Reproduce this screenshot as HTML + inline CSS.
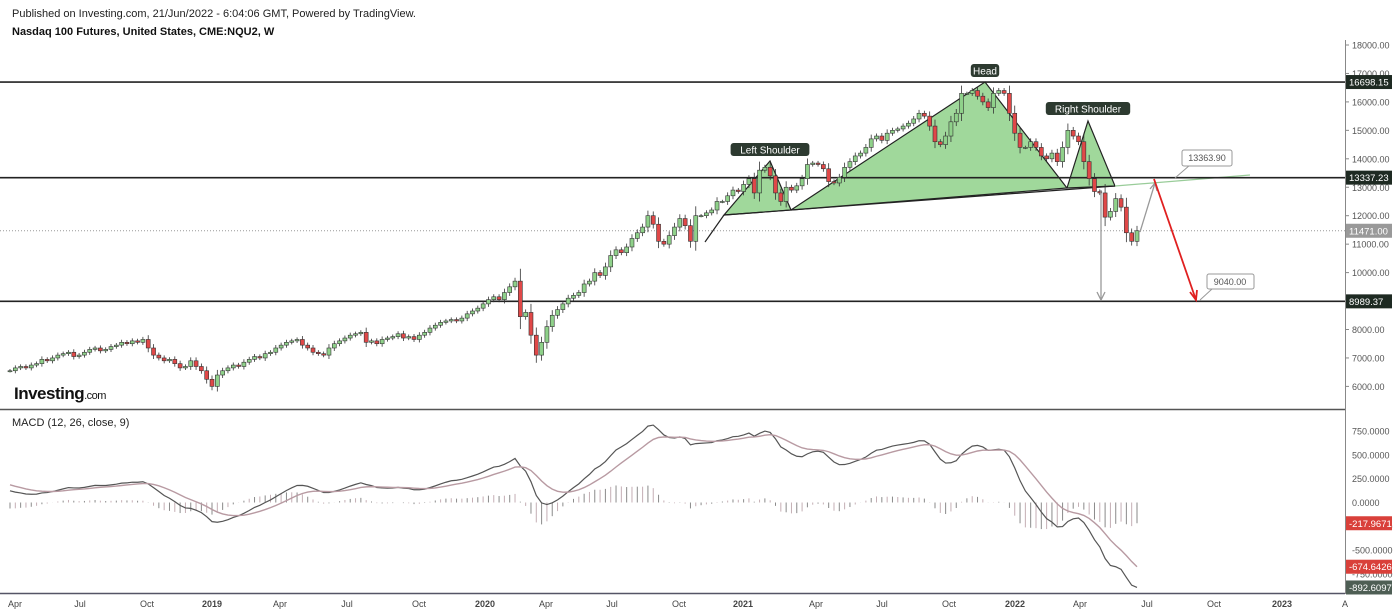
<!DOCTYPE html>
<html><head><meta charset="utf-8"><style>
body{margin:0;background:#fff;font-family:"Liberation Sans",sans-serif}
svg{display:block}
text{font-family:"Liberation Sans",sans-serif}
</style></head><body>
<svg id="c" width="1400" height="612" xmlns="http://www.w3.org/2000/svg">
<rect width="1400" height="612" fill="#fff"/>
<text x="12" y="17" font-size="11" fill="#222">Published on Investing.com, 21/Jun/2022 - 6:04:06 GMT, Powered by TradingView.</text>
<text x="12" y="35" font-size="11" font-weight="bold" fill="#111">Nasdaq 100 Futures, United States, CME:NQU2, W</text>
<text x="14" y="399" font-size="17" font-weight="bold" fill="#111" letter-spacing="-0.5">Investing<tspan font-size="11" font-weight="normal">.com</tspan></text>
<text x="12" y="426" font-size="11" fill="#222">MACD (12, 26, close, 9)</text>
<line x1="0" y1="409.5" x2="1345" y2="409.5" stroke="#555" stroke-width="1.5"/>
<line x1="1345.5" y1="40" x2="1345.5" y2="594" stroke="#888"/>
<line x1="0" y1="593.5" x2="1345" y2="593.5" stroke="#556" stroke-width="1.5"/>
<g id="g"></g>
</svg>
<script>
const warmup=[5800,5900,5950,5900,6000,6100,6200,6250,6300,6350,6300,6400,6450,6350,6450,6500,6700,6850,6950,7000,6850,6600,6650,6800,6900,7050,7100,6950,6600,6700,6550];
const closes=[6550,6650,6700,6650,6750,6800,6950,6900,7000,7100,7150,7200,7050,7100,7200,7300,7350,7250,7300,7400,7450,7550,7500,7600,7550,7650,7350,7100,7000,6900,6950,6800,6650,6700,6900,6700,6550,6250,6000,
6400,6550,6650,6750,6700,6850,6950,7050,7000,7150,7200,7350,7450,7550,7600,7650,7450,7350,7200,7150,7100,7350,7500,7600,7700,7800,7850,7900,7550,7600,7500,7650,7700,7750,7850,7700,7750,7650,7800,7900,8050,8150,8250,8300,8350,8300,8400,8550,8650,8750,
8900,9050,9150,9050,9300,9500,9700,8450,8600,7800,7100,7550,8100,8500,8700,8900,9100,9200,9300,9600,9700,10000,9900,10200,10600,10800,10700,10900,11200,11400,11600,12000,11700,11100,11000,11300,11600,11900,11650,11100,12000,12000,12100,12200,12500,12500,12700,12900,
12850,13100,13300,12800,13600,13700,13400,12800,12500,13000,12900,13050,13300,13800,13850,13800,13650,13200,13150,13350,13700,13900,14100,14200,14400,14700,14800,14650,14900,15000,15050,15150,15250,15400,15600,15500,15150,14600,14500,14800,15300,15600,16300,16300,16400,16200,16000,15800,16300,16400,16300,
15600,14900,14400,14400,14600,14400,14100,14000,14200,13900,14400,15000,14800,14600,13900,13300,12850,12800,11950,12150,12600,12300,11400,11100,11471];
const priceTicks=[18000,17000,16000,15000,14000,13000,12000,11000,10000,9000,8000,7000,6000];
const macdTicks=[750,500,250,0,-250,-500,-750];
const timeLabels=["Apr","Jul","Oct","2019","Apr","Jul","Oct","2020","Apr","Jul","Oct","2021","Apr","Jul","Oct","2022","Apr","Jul","Oct","2023","A"];
const timeLabelX=[15,80,147,212,280,347,419,485,546,612,679,743,816,882,949,1015,1080,1147,1214,1282,1345];
const levels=[16698.15,13337.23,8989.37];
const lastPrice=11471.00;
const NS="http://www.w3.org/2000/svg";
const G=document.getElementById('g');
function py(v){return 45+(18000-v)*0.02845;}
function my(v){return 502.5-v*0.0952;}
function px(i){return 10+i*(1127/(closes.length-1));}
function mk(t,a,p){const e=document.createElementNS(NS,t);for(const k in a)e.setAttribute(k,a[k]);(p||G).appendChild(e);return e;}
priceTicks.forEach(v=>{const y=py(v);
 const l=mk('line',{x1:1345,y1:y,x2:1349,y2:y,stroke:'#888'});
 
 
 const t=mk('text',{x:1352,y:y+3.5,'font-size':9,fill:'#555'});t.textContent=v.toFixed(2);
 
 });
macdTicks.forEach(v=>{const y=my(v);
 const t=mk('text',{x:1352,y:y+3.5,'font-size':9,fill:'#555'});t.textContent=v.toFixed(4);
 
 });
timeLabels.forEach((s,i)=>{const t=mk('text',{x:timeLabelX[i],y:607,'font-size':9,fill:'#444','text-anchor':'middle','font-weight':/^\d{4}$/.test(s)?'bold':'normal'});t.textContent=s;
 
 });
const pat=mk('g',{});


mk('polygon',{points:'724,215 770,161 791,210',fill:'#8fd18a','fill-opacity':0.85,stroke:'#222','stroke-width':1.2},pat);
mk('polygon',{points:'791,210 985,82 1067,188',fill:'#8fd18a','fill-opacity':0.85,stroke:'#222','stroke-width':1.2},pat);
mk('polygon',{points:'1067,188 1088,121 1115,186',fill:'#8fd18a','fill-opacity':0.85,stroke:'#222','stroke-width':1.2},pat);
mk('line',{x1:705,y1:242,x2:724,y2:215,stroke:'#222','stroke-width':1.2},pat);
mk('line',{x1:724,y1:215,x2:1115,y2:186,stroke:'#222','stroke-width':1.2},pat);
mk('line',{x1:1115,y1:186,x2:1250,y2:175,stroke:'#9c9','stroke-width':1.2},pat);
levels.forEach(v=>{const y=py(v);
 const l=mk('line',{x1:0,y1:y,x2:1345,y2:y,stroke:'#222','stroke-width':1.6});
 
 
 mk('rect',{x:1346,y:y-7,width:46,height:14,fill:'#1e2a22'});
 const t=mk('text',{x:1349,y:y+3.5,'font-size':9.5,fill:'#fff'});t.textContent=v.toFixed(2);
 
 });
const ly=py(lastPrice);
const dl=mk('line',{x1:0,y1:ly,x2:1345,y2:ly,stroke:'#999','stroke-dasharray':'1,2'});


mk('rect',{x:1346,y:ly-7,width:46,height:14,fill:'#999'});
const lt=mk('text',{x:1349,y:ly+3.5,'font-size':9.5,fill:'#fff'});lt.textContent=lastPrice.toFixed(2);


for(let i=0;i<closes.length;i++){
 const o=i?closes[i-1]:warmup[warmup.length-1],c=closes[i];
 const hi=Math.max(o,c)+Math.abs(c-o)*0.3+60,lo=Math.min(o,c)-Math.abs(c-o)*0.3-60;
 const x=px(i),up=c>=o;
 const g=mk('g',{});
 
 
 mk('line',{x1:x,y1:py(hi),x2:x,y2:py(lo),stroke:'#333','stroke-width':0.8},g);
 const t=py(Math.max(o,c)),b=py(Math.min(o,c));
 mk('rect',{x:x-2,y:t,width:4,height:Math.max(1,b-t),fill:up?'#8fd18a':'#e04848',stroke:'#333','stroke-width':0.6},g);
}
mk('line',{x1:1101,y1:190,x2:1101,y2:300,stroke:'#999','stroke-width':1.3});
mk('polyline',{points:'1097,292 1101,300 1105,292',fill:'none',stroke:'#999','stroke-width':1.3});
mk('line',{x1:1140,y1:232,x2:1155,y2:183,stroke:'#999','stroke-width':1.3});
mk('polyline',{points:'1150,189 1155,183 1157,191',fill:'none',stroke:'#999','stroke-width':1.3});
mk('line',{x1:1154,y1:179,x2:1196,y2:300,stroke:'#e02020','stroke-width':1.8});
mk('polyline',{points:'1190,292 1196,300 1197,290',fill:'none',stroke:'#e02020','stroke-width':1.8});
mk('line',{x1:1175,y1:178,x2:1190,y2:165,stroke:'#999'});
mk('rect',{x:1182,y:150,width:50,height:16,rx:2,fill:'#fff',stroke:'#999'});
let t1=mk('text',{x:1207,y:161,'font-size':9,fill:'#555','text-anchor':'middle'});t1.textContent='13363.90';


mk('line',{x1:1200,y1:300,x2:1212,y2:289,stroke:'#999'});
mk('rect',{x:1207,y:274,width:47,height:15,rx:2,fill:'#fff',stroke:'#999'});
let t2=mk('text',{x:1230,y:285,'font-size':9,fill:'#555','text-anchor':'middle'});t2.textContent='9040.00';


[['Left Shoulder',770,150],['Head',985,71],['Right Shoulder',1088,109]].forEach(a=>{
 const w=a[0].length*5.6+6;
 mk('rect',{x:a[1]-w/2,y:a[2]-7,width:w,height:13,rx:3,fill:'#2d3a30'});
 const t=mk('text',{x:a[1],y:a[2]+3.5,'font-size':10,fill:'#fff','text-anchor':'middle'});t.textContent=a[0];
 
 });
function ema(arr,n){const k=2/(n+1);const r=[];let e=arr[0];arr.forEach(v=>{e=v*k+e*(1-k);r.push(e);});return r;}
const all=warmup.concat(closes);
const e12=ema(all,12),e26=ema(all,26);
const macdAll=all.map((_,i)=>e12[i]-e26[i]);
const sigAll=ema(macdAll,9);
const macd=macdAll.slice(warmup.length),sig=sigAll.slice(warmup.length);
macd.forEach((m,i)=>{const h=m-sig[i];
 const b=mk('line',{x1:px(i),y1:my(0),x2:px(i),y2:my(h),stroke:i%2?'#c4aeb4':'#8a8a8a','stroke-width':1});
 
 });
const lm=mk('polyline',{points:macd.map((v,i)=>px(i)+','+my(v)).join(' '),fill:'none',stroke:'#555','stroke-width':1.2});


const ls=mk('polyline',{points:sig.map((v,i)=>px(i)+','+my(v)).join(' '),fill:'none',stroke:'#b89aa2','stroke-width':1.4});


const n=closes.length-1,hv=macd[n]-sig[n];
[[hv,'#d9403a'],[sig[n],'#d9403a'],[macd[n],'#4e5e54']].forEach(a=>{const y=my(a[0]);
 mk('rect',{x:1346,y:y-7,width:46,height:14,fill:a[1]});
 const t=mk('text',{x:1349,y:y+3.5,'font-size':9.5,fill:'#fff'});t.textContent=a[0].toFixed(4);
 
 });
</script>
</body></html>
